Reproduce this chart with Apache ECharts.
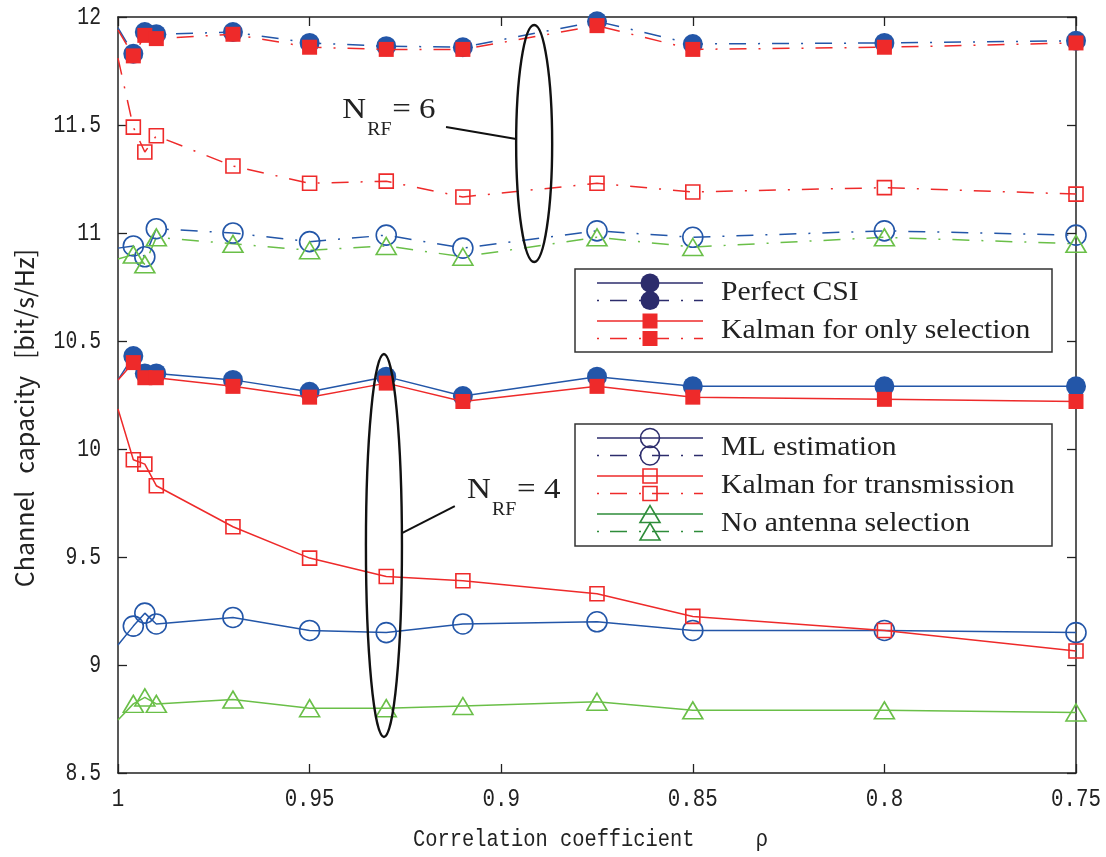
<!DOCTYPE html>
<html><head><meta charset="utf-8">
<script src="https://cdn.jsdelivr.net/npm/echarts@6/dist/echarts.min.js"></script>
<style>html,body{margin:0;padding:0;background:#fff}#c{width:1106px;height:857px}</style>
</head><body><div id="c"></div>
<script>
// ---- data (first point at rho = 1 is only the start of the line, no marker) ----
const rho        = [1, 0.996, 0.993, 0.99, 0.97, 0.95, 0.93, 0.91, 0.875, 0.85, 0.80, 0.75];
// N_RF = 6 (dash-dot)
const perfect6   = [11.95, 11.83, 11.93, 11.92, 11.93, 11.88, 11.865, 11.86, 11.98, 11.875, 11.88, 11.89];
const kalSel6    = [11.94, 11.82, 11.915, 11.90, 11.92, 11.86, 11.85, 11.85, 11.96, 11.85, 11.86, 11.88];
const kalTx6     = [11.81, 11.49, 11.375, 11.45, 11.31, 11.23, 11.24, 11.167, 11.23, 11.19, 11.21, 11.18];
const ml6        = [10.93, 10.94, 10.89, 11.02, 11.00, 10.96, 10.99, 10.93, 11.01, 10.98, 11.01, 10.99];
const noSel6     = [10.88, 10.90, 10.855, 10.98, 10.95, 10.92, 10.94, 10.89, 10.98, 10.935, 10.98, 10.95];
// N_RF = 4 (solid)
const perfect4   = [10.32, 10.43, 10.35, 10.35, 10.32, 10.265, 10.335, 10.245, 10.335, 10.29, 10.29, 10.29];
const kalSel4    = [10.32, 10.40, 10.33, 10.33, 10.29, 10.24, 10.305, 10.22, 10.29, 10.24, 10.23, 10.22];
const kalTx4     = [10.185, 9.95, 9.93, 9.83, 9.64, 9.495, 9.41, 9.39, 9.33, 9.225, 9.16, 9.065];
const ml4        = [9.093, 9.18, 9.24, 9.19, 9.22, 9.16, 9.15, 9.19, 9.20, 9.16, 9.16, 9.15];
const noSel4     = [8.745, 8.82, 8.85, 8.82, 8.84, 8.80, 8.80, 8.81, 8.83, 8.79, 8.79, 8.78];

const xTicks = [1, 0.95, 0.9, 0.85, 0.8, 0.75];
const xTickLabels = ['1', '0.95', '0.9', '0.85', '0.8', '0.75'];
const yTicks = [12, 11.5, 11, 10.5, 10, 9.5, 9, 8.5];
const yTickLabels = ['12', '11.5', '11', '10.5', '10', '9.5', '9', '8.5'];

const xTitle = 'Correlation coefficient     ρ';
const yTitle = 'Channel   capacity   [bit/s/Hz]';
const legend1 = ['Perfect CSI', 'Kalman for only selection'];
const legend2 = ['ML estimation', 'Kalman for transmission', 'No antenna selection'];
const nrfLabels = ['= 6', '= 4'];

// ---- styling ----
const BLUE = '#2356a8', RED = '#ee2a2a', GREEN = '#6abf48';
const NAVY = '#2c2c6c', LGREEN = '#2e8c3a';
const DASHDOT = [17, 12, 2, 12];
const MONO = '"Liberation Mono"';
const SERIF = 'Liberation Serif';

function mkData(vals) {
  return rho.map((r, i) => i === 0 ? { value: [r, vals[i]], symbol: 'none' } : [r, vals[i]]);
}
function mk(vals, color, symbol, size, filled, dashed, z) {
  return {
    type: 'line', data: mkData(vals), symbol: symbol, symbolSize: size,
    showSymbol: true, showAllSymbol: true, z: z, animation: false,
    lineStyle: { color: color, width: 1.5, type: dashed ? DASHDOT : 'solid' },
    itemStyle: filled ? { color: color, borderWidth: 0 }
                      : { color: 'rgba(255,255,255,0)', borderColor: color, borderWidth: 1.6 },
    emphasis: { disabled: true }
  };
}

const axisCommon = {
  axisLine: { show: true, onZero: false, lineStyle: { color: '#222', width: 1.5 } },
  axisTick: { show: true, inside: true, length: 9, lineStyle: { color: '#222', width: 1.3 } },
  axisLabel: { show: false },
  splitLine: { show: false }
};

const chart = echarts.init(document.getElementById('c'), null, { renderer: 'canvas' });
chart.setOption({
  animation: false,
  backgroundColor: '#fff',
  grid: { left: 118, right: 30, top: 17, bottom: 84, containLabel: false },
  xAxis: [
    Object.assign({ type: 'value', min: 0.75, max: 1, interval: 0.05, inverse: true, position: 'bottom' }, axisCommon),
    Object.assign({ type: 'value', min: 0.75, max: 1, interval: 0.05, inverse: true, position: 'top' }, axisCommon)
  ],
  yAxis: [
    Object.assign({ type: 'value', min: 8.5, max: 12, interval: 0.5, position: 'left' }, axisCommon),
    Object.assign({ type: 'value', min: 8.5, max: 12, interval: 0.5, position: 'right' }, axisCommon)
  ],
  series: [
    mk(perfect6, BLUE, 'circle', 20, true, true, 2),
    mk(kalSel6, RED, 'rect', 15, true, true, 3),
    mk(ml6, BLUE, 'circle', 20, false, true, 2),
    mk(noSel6, GREEN, 'triangle', [20, 17], false, true, 2),
    mk(kalTx6, RED, 'rect', 14, false, true, 3),
    mk(perfect4, BLUE, 'circle', 20, true, false, 2),
    mk(kalSel4, RED, 'rect', 15, true, false, 3),
    mk(ml4, BLUE, 'circle', 20, false, false, 2),
    mk(noSel4, GREEN, 'triangle', [20, 17], false, false, 2),
    mk(kalTx4, RED, 'rect', 14, false, false, 3)
  ]
});

// ---- annotations (data coordinates) ----
const ellipses = [
  { r0: 0.8961, r1: 0.8867, v0: 11.963, v1: 10.866 },
  { r0: 0.9353, r1: 0.9259, v0: 10.44, v1: 8.667 }
];
const leaders = [
  { a: [0.9144, 11.491], b: [0.8961, 11.435] },
  { a: [0.9259, 9.611], b: [0.9121, 9.736] }
];
const nrfAnchors = [[0.9415, 11.50], [0.9089, 9.741]];

const px = (p) => chart.convertToPixel({ xAxisIndex: 0, yAxisIndex: 0 }, p);
const g = [];
ellipses.forEach(e => {
  const p0 = px([e.r0, e.v0]), p1 = px([e.r1, e.v1]);
  g.push({ type: 'ellipse', z: 50, shape: { cx: (p0[0] + p1[0]) / 2, cy: (p0[1] + p1[1]) / 2,
    rx: Math.abs(p1[0] - p0[0]) / 2, ry: Math.abs(p1[1] - p0[1]) / 2 },
    style: { fill: 'none', stroke: '#111', lineWidth: 2.4 } });
});
leaders.forEach(l => {
  const a = px(l.a), b = px(l.b);
  g.push({ type: 'line', z: 50, shape: { x1: a[0], y1: a[1], x2: b[0], y2: b[1] },
    style: { stroke: '#111', lineWidth: 2 } });
});
nrfAnchors.forEach((an, i) => {
  const p = px(an);
  g.push({ type: 'text', z: 50, x: p[0], y: p[1], scaleX: 1.1, style: { text: 'N', font: '30px ' + SERIF, fill: '#222',
    textAlign: 'left', textVerticalAlign: 'bottom' } });
  g.push({ type: 'text', z: 50, x: p[0] + 25, y: p[1] + 14, scaleX: 1.1, style: { text: 'RF', font: '18px ' + SERIF, fill: '#222',
    textAlign: 'left', textVerticalAlign: 'bottom' } });
  g.push({ type: 'text', z: 50, x: p[0] + 50, y: p[1], scaleX: 1.1, style: { text: nrfLabels[i], font: '30px ' + SERIF, fill: '#222',
    textAlign: 'left', textVerticalAlign: 'bottom' } });
});

// ---- tick labels (real text, narrow monospace look) ----
xTicks.forEach((t, i) => {
  const p = px([t, 8.5]);
  g.push({ type: 'text', z: 40, x: p[0], y: p[1] + 26, scaleX: 0.8,
    style: { text: xTickLabels[i], font: '26px ' + MONO, fill: '#222', textAlign: 'center', textVerticalAlign: 'middle' } });
});
yTicks.forEach((t, i) => {
  const p = px([1, t]);
  g.push({ type: 'text', z: 40, x: p[0] - 17, y: p[1], scaleX: 0.76,
    style: { text: yTickLabels[i], font: '26px ' + MONO, fill: '#222', textAlign: 'right', textVerticalAlign: 'middle' } });
});

// ---- legends ----
function legendBox(top, height, entries) {
  g.push({ type: 'rect', z: 60, shape: { x: 575, y: top, width: 477, height: height },
    style: { fill: '#fff', stroke: '#333', lineWidth: 1.5 } });
  entries.forEach((en, i) => {
    const ys = top + 14 + i * 38, yd = ys + 17.5, tm = ys + 9.5;
    g.push({ type: 'line', z: 61, shape: { x1: 597, y1: ys, x2: 703, y2: ys }, style: { stroke: en.color, lineWidth: 1.5 } });
    g.push({ type: 'line', z: 61, shape: { x1: 597, y1: yd, x2: 703, y2: yd }, style: { stroke: en.color, lineWidth: 1.5, lineDash: [2, 11, 17, 12] } });
    [ys, yd].forEach(y => {
      const st = en.filled ? { fill: en.color, stroke: null } : { fill: 'none', stroke: en.color, lineWidth: 1.6 };
      if (en.symbol === 'circle') g.push({ type: 'circle', z: 62, shape: { cx: 650, cy: y, r: 9.5 }, style: st });
      else if (en.symbol === 'rect') { const s = en.filled ? 15 : 14; g.push({ type: 'rect', z: 62, shape: { x: 650 - s / 2, y: y - s / 2, width: s, height: s }, style: st }); }
      else g.push({ type: 'polygon', z: 62, shape: { points: [[640, y + 8.5], [660, y + 8.5], [650, y - 8.5]] }, style: st });
    });
    g.push({ type: 'text', z: 62, x: 721, y: tm, scaleX: 1.1, style: { text: en.label, font: '27px ' + SERIF, fill: '#222', textAlign: 'left', textVerticalAlign: 'middle' } });
  });
}
legendBox(269, 83, [
  { label: legend1[0], color: NAVY, symbol: 'circle', filled: true },
  { label: legend1[1], color: RED, symbol: 'rect', filled: true }
]);
legendBox(424, 122, [
  { label: legend2[0], color: NAVY, symbol: 'circle', filled: false },
  { label: legend2[1], color: RED, symbol: 'rect', filled: false },
  { label: legend2[2], color: LGREEN, symbol: 'triangle', filled: false }
]);

// ---- axis titles ----
g.push({ type: 'text', z: 40, x: 413, y: 840, scaleX: 0.85, style: { text: xTitle, font: '24px ' + MONO, fill: '#222', textAlign: 'left', textVerticalAlign: 'middle' } });
g.push({ type: 'text', z: 40, x: 24, y: 418, rotation: Math.PI / 2, style: { text: yTitle, font: '25px "Noto Sans CJK JP"', fill: '#222', textAlign: 'center', textVerticalAlign: 'middle' } });

chart.setOption({ graphic: g });
</script>
</body></html>
